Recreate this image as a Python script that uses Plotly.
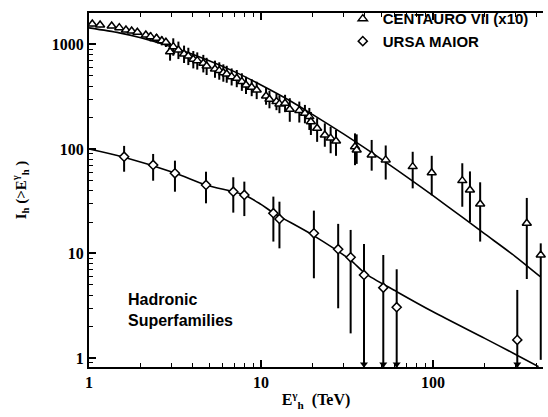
import plotly.graph_objects as go
import math

# ---------------- data ----------------
# CENTAURO VII (x10): energy threshold (TeV), integral intensity, error-bar top / bottom
cen_x = [1.045, 1.16, 1.355, 1.50, 1.64, 1.77, 1.91, 2.14, 2.28, 2.47, 2.65, 2.80,
         3.09, 2.96, 3.31, 3.57, 3.78, 4.04, 4.26, 4.62, 4.83, 5.40, 5.72, 6.04,
         6.32, 6.75, 7.23, 7.74, 8.18, 8.83, 9.44, 10.7, 11.2, 12.3, 12.8, 13.8,
         14.7, 16.7, 18.0, 19.1, 19.5, 21.2, 23.5, 25.4, 27.3, 35.2, 36.0, 44.0,
         53.1, 76.2, 98.3, 148, 164, 188, 351, 423]
cen_y = [1571, 1537, 1503, 1448, 1377, 1346, 1309, 1233, 1188, 1146, 1087, 1050,
         953, 853, 886, 811, 776, 722, 700, 661, 622, 583, 562, 537,
         522, 492, 475, 441, 410, 389, 367, 321, 299, 284, 270, 274,
         240, 233, 220, 204, 182, 158, 136, 127, 119, 105, 97.8, 87.7,
         78.6, 67.8, 59.3, 49.8, 40.5, 29.8, 19.5, 9.68]
cen_hi = [1650, 1615, 1580, 1520, 1445, 1415, 1375, 1295, 1305, 1260, 1195, 1155,
          1145, 1025, 1065, 975, 930, 865, 840, 795, 745, 700, 675, 645,
          625, 590, 570, 530, 490, 465, 440, 385, 360, 340, 325, 330,
          306, 284, 264, 247, 226, 197, 176, 163, 152, 141, 138, 122,
          108, 94, 86, 73, 61, 48, 34, 12.5]
cen_lo = [1490, 1460, 1430, 1375, 1310, 1280, 1245, 1170, 1070, 1030, 980, 945,
          780, 700, 725, 665, 635, 590, 575, 540, 510, 480, 460, 440,
          430, 405, 390, 360, 335, 320, 300, 265, 245, 235, 220, 225,
          182, 179, 176, 152, 136, 117, 105, 91, 86, 70, 72, 62,
          51, 42, 36, 28, 20, 13, 5.7, 0.96]

# URSA MAIOR: None in um_lo marks an upper limit (arrow down to the axis)
um_x = [1.60, 2.36, 3.16, 4.79, 6.90, 8.0, 11.8, 12.8, 20.3, 28.1, 33.2, 39.7, 51.4, 61.5, 309]
um_y = [84.4, 70.3, 58.5, 45.3, 39.0, 36.3, 24.3, 21.4, 15.6, 11.0, 9.2, 6.23, 4.71, 3.06, 1.49]
um_hi = [107, 89.6, 77.3, 60.6, 53.6, 48.7, 35.0, 31.3, 25.7, 19.2, 16.8, 12.3, 9.67, 7.06, 4.48]
um_lo = [60.6, 49.7, 39.0, 30.2, 24.6, 22.8, 13.0, 11.2, 5.79, 2.99, 1.72, None, None, None, None]

# fitted curves
fit_cen_x = [1, 1.5, 2, 3, 5, 7, 10, 15, 20, 30, 50, 70, 100, 150, 200, 300, 420]
fit_cen_y = [1440, 1290, 1160, 950, 700, 550, 410, 285, 213, 140, 80.0, 54.4, 35.7, 21.9, 15.4, 9.4, 6.0]
fit_um_x = [1, 1.58, 3.16, 4.79, 8, 10, 11.8, 20, 33, 40.3, 61.6, 100, 200, 306, 411]
fit_um_y = [100, 83.8, 58.9, 45.3, 36.3, 29.5, 24.5, 15.0, 8.7, 6.46, 4.31, 2.77, 1.54, 1.07, 0.826]

# axes
Y_MIN, Y_MAX = 0.82, 2000
X_MIN, X_MAX = 1, 436
y_tickvals = [1, 10, 100, 1000]
x_tickvals = [1, 10, 100]

# ---------------- figure ----------------
fig = go.Figure()
BLACK = "#000000"

fig.add_trace(go.Scatter(x=fit_cen_x, y=fit_cen_y, mode="lines",
                         line=dict(color=BLACK, width=1.6, shape="spline", smoothing=0.8),
                         showlegend=False, hoverinfo="skip"))
fig.add_trace(go.Scatter(x=fit_um_x, y=fit_um_y, mode="lines",
                         line=dict(color=BLACK, width=1.6, shape="spline", smoothing=0.8),
                         showlegend=False, hoverinfo="skip"))

um_lo_full = [lo if lo is not None else Y_MIN for lo in um_lo]
fig.add_trace(go.Scatter(
    x=um_x, y=um_y, mode="markers", showlegend=False,
    marker=dict(symbol="diamond", size=7, color="white", line=dict(color=BLACK, width=1.5)),
    error_y=dict(type="data", symmetric=False,
                 array=[h - y for h, y in zip(um_hi, um_y)],
                 arrayminus=[y - l for y, l in zip(um_y, um_lo_full)],
                 color=BLACK, thickness=2, width=0)))

# arrow heads for upper limits
lim_x = [x for x, lo in zip(um_x, um_lo) if lo is None]
fig.add_trace(go.Scatter(x=lim_x, y=[Y_MIN * 1.06] * len(lim_x), mode="markers", showlegend=False,
                         marker=dict(symbol="triangle-down", size=7, color=BLACK, line=dict(width=0)),
                         cliponaxis=False, hoverinfo="skip"))

fig.add_trace(go.Scatter(
    x=cen_x, y=cen_y, mode="markers", showlegend=False, cliponaxis=False,
    marker=dict(symbol="triangle-up", size=8, color="white", line=dict(color=BLACK, width=1.5)),
    error_y=dict(type="data", symmetric=False,
                 array=[h - y for h, y in zip(cen_hi, cen_y)],
                 arrayminus=[y - l for y, l in zip(cen_y, cen_lo)],
                 color=BLACK, thickness=2, width=0)))

# legend-only traces
fig.add_trace(go.Scatter(x=[None], y=[None], mode="markers", name="<b>CENTAURO VII (x10)</b>",
                         marker=dict(symbol="triangle-up", size=8, color="white", line=dict(color=BLACK, width=1.5))))
fig.add_trace(go.Scatter(x=[None], y=[None], mode="markers", name="<b>URSA MAIOR</b>",
                         marker=dict(symbol="diamond", size=7, color="white", line=dict(color=BLACK, width=1.5))))

serif = "Liberation Serif, Times New Roman, serif"
sans = "Liberation Sans, Arial, sans-serif"

fig.update_layout(
    width=548, height=417,
    margin=dict(l=89, r=5, t=13, b=50, autoexpand=False),
    paper_bgcolor="white", plot_bgcolor="white",
    showlegend=True,
    legend=dict(x=0.559, y=1.03, xanchor="left", yanchor="top", bgcolor="rgba(0,0,0,0)",
                font=dict(family=sans, size=15, color=BLACK), itemwidth=30, tracegroupgap=0),
    xaxis=dict(type="log", range=[math.log10(X_MIN), math.log10(X_MAX)], automargin=False,
               showgrid=False, zeroline=False, showline=True, linecolor=BLACK, linewidth=2,
               mirror="ticks", ticks="inside", ticklen=7, tickwidth=1.5, tickcolor=BLACK,
               tickvals=x_tickvals, ticktext=["<b>%g</b>" % v for v in x_tickvals],
               tickfont=dict(family=serif, size=16, color=BLACK),
               minor=dict(ticks="inside", ticklen=4, tickwidth=1.2, tickcolor=BLACK, dtick="D1", showgrid=False),
               title=dict(text="<b>E<sup>γ</sup><sub>h</sub>  (TeV)</b>",
                          font=dict(family=serif, size=16, color=BLACK), standoff=4)),
    yaxis=dict(type="log", range=[math.log10(Y_MIN), math.log10(Y_MAX)], automargin=False,
               showgrid=False, zeroline=False, showline=True, linecolor=BLACK, linewidth=2,
               mirror=False, ticks="inside", ticklen=7, tickwidth=1.5, tickcolor=BLACK,
               tickvals=y_tickvals, ticktext=["<b>%g</b>" % v for v in y_tickvals],
               tickfont=dict(family=serif, size=16, color=BLACK),
               minor=dict(ticks="inside", ticklen=4, tickwidth=1.2, tickcolor=BLACK, dtick="D1", showgrid=False),
               title=dict(text="<b>I<sub>h</sub> (>E<sup>γ</sup><sub>h</sub> )</b>",
                          font=dict(family=serif, size=15, color=BLACK), standoff=22)),
    annotations=[
        dict(text="<b>Hadronic</b>", xref="paper", yref="paper", x=0.081, y=0.192,
             xanchor="left", yanchor="middle", showarrow=False,
             font=dict(family=sans, size=16, color=BLACK)),
        dict(text="<b>Superfamilies</b>", xref="paper", yref="paper", x=0.081, y=0.130,
             xanchor="left", yanchor="middle", showarrow=False,
             font=dict(family=sans, size=16, color=BLACK)),
    ],
)

fig.write_html("out.html", config={"displayModeBar": False},
               post_script="document.body.style.margin='0';document.body.style.overflow='hidden';")
